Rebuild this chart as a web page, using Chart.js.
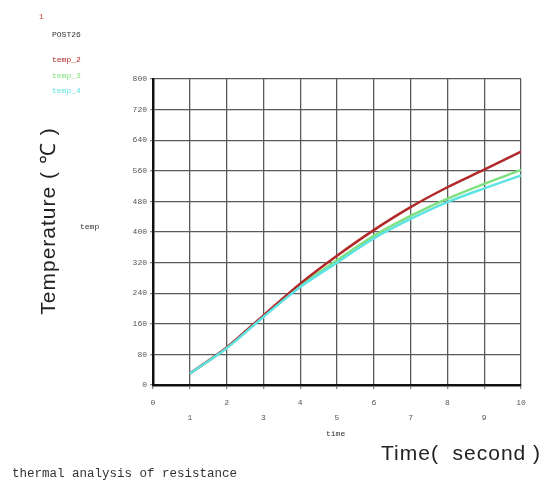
<!DOCTYPE html>
<html>
<head>
<meta charset="utf-8">
<style>
  html, body { margin: 0; padding: 0; background: #fff; }
  #wrap { width: 551px; height: 481px; position: relative; }
</style>
<script src="https://cdn.jsdelivr.net/npm/chart.js@4/dist/chart.umd.min.js"></script>
</head>
<body>
<div id="wrap"><canvas id="chart" width="551" height="481"></canvas></div>
<script>
// data
const timeSteps = [1, 2, 3, 4, 5, 6, 7, 8, 9, 10];
const temp2 = [30, 98, 182, 265, 338, 405, 465, 517, 563, 610];
const temp3 = [30, 97, 180, 260, 326, 390, 442, 487, 526, 562];
const temp4 = [30, 96, 178, 256, 320, 383, 434, 478, 514, 548];
const seriesNames = ['temp_2', 'temp_3', 'temp_4'];
const seriesColors = ['#b02828', '#7fe07f', '#5fe2e2'];

const monoFont = '"Liberation Mono", "DejaVu Sans Mono", monospace';
const sansFont = '"Liberation Sans", Arial, sans-serif';

function pts(vals){ return timeSteps.map((t, i) => ({ x: t, y: vals[i] })); }

// free text around the plot (ANSYS POST26 style labels)
const labelsPlugin = {
  id: 'labels',
  afterDraw(chart){
    const ctx = chart.ctx;
    ctx.save();
    ctx.textBaseline = 'middle';
    ctx.textAlign = 'left';

    ctx.font = '8px ' + monoFont;
    ctx.fillStyle = '#d04040';
    ctx.fillText('1', 39, 17);
    ctx.fillStyle = '#333';
    ctx.fillText('POST26', 52, 35);
    seriesNames.forEach((n, i) => {
      ctx.fillStyle = seriesColors[i];
      ctx.fillText(n, 52, 60 + i * 15.5);
    });

    ctx.fillStyle = '#333';
    ctx.fillText('temp', 80, 227);
    ctx.fillText('time', 326, 434);

    ctx.font = '12.5px ' + monoFont;
    ctx.fillStyle = '#333';
    ctx.fillText('thermal analysis of resistance', 12, 474);

    ctx.font = '21px ' + sansFont;
    ctx.letterSpacing = '1px';
    ctx.fillStyle = '#222';
    ctx.fillText('Time( \u00a0second )', 381, 454);

    ctx.translate(49, 221);
    ctx.rotate(-Math.PI / 2);
    ctx.textAlign = 'center';
    ctx.fillText('Temperature ( \u2103 )', 0, 0);
    ctx.restore();
  }
};

new Chart(document.getElementById('chart').getContext('2d'), {
  type: 'line',
  data: {
    datasets: seriesNames.map((n, i) => ({
      label: n,
      data: pts([temp2, temp3, temp4][i]),
      borderColor: seriesColors[i],
      borderWidth: 2.5,
      pointRadius: 0,
      tension: 0.3,
      fill: false,
      order: [1, 2, 0][i]
    }))
  },
  options: {
    responsive: false,
    animation: false,
    layout: { padding: { left: 0, top: 79, right: 30, bottom: 0 } },
    plugins: { legend: { display: false }, tooltip: { enabled: false } },
    scales: {
      x: {
        type: 'linear',
        min: 0, max: 10,
        afterFit: s => { s.height = 96; },
        grid: { color: '#5a5a5a', lineWidth: 1.3, tickLength: 4, tickColor: '#888' },
        border: { color: '#111', width: 2.5 },
        ticks: {
          stepSize: 1,
          maxRotation: 0,
          autoSkip: false,
          padding: 6,
          color: '#555',
          font: { family: monoFont, size: 8, lineHeight: 1.9 },
          callback: v => (v % 2 === 0 ? String(v) : ['', String(v)])
        }
      },
      y: {
        min: 0, max: 800,
        afterFit: s => { s.width = 153; },
        grid: { color: '#5a5a5a', lineWidth: 1.3, tickLength: 3, tickColor: '#888' },
        border: { color: '#111', width: 2.5 },
        ticks: {
          stepSize: 80,
          padding: 3,
          color: '#555',
          font: { family: monoFont, size: 8 }
        }
      }
    }
  },
  plugins: [labelsPlugin]
});
</script>
</body>
</html>
